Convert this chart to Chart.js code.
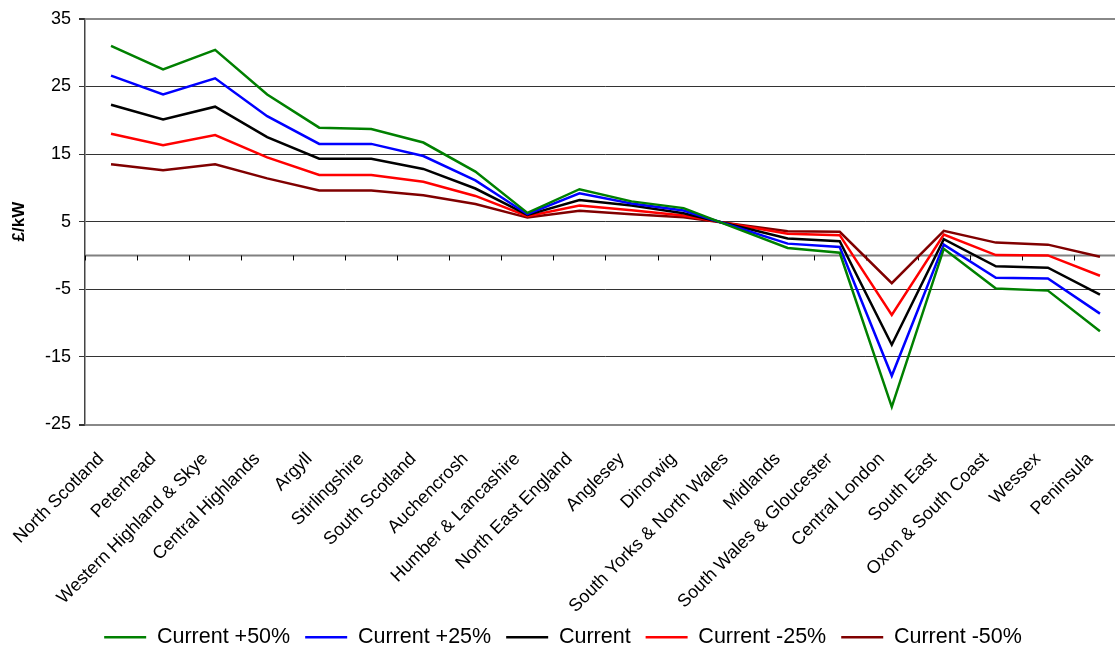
<!DOCTYPE html>
<html>
<head>
<meta charset="utf-8">
<script src="https://cdn.jsdelivr.net/npm/chart.js@4.4.1/dist/chart.umd.min.js"></script>
<style>
  html, body { margin: 0; padding: 0; background: #fff; overflow: hidden; }
  #wrap { width: 1126px; height: 658px; }
</style>
</head>
<body>
<div id="wrap"><canvas id="zoneChart" width="1126" height="658"></canvas></div>
<script>
const zones = ['North Scotland', 'Peterhead', 'Western Highland & Skye', 'Central Highlands', 'Argyll',
    'Stirlingshire', 'South Scotland', 'Auchencrosh', 'Humber & Lancashire', 'North East England',
    'Anglesey', 'Dinorwig', 'South Yorks & North Wales', 'Midlands', 'South Wales & Gloucester',
    'Central London', 'South East', 'Oxon & South Coast', 'Wessex', 'Peninsula'];

const plus50 = [31.0, 27.5, 30.4, 23.8, 18.9, 18.7, 16.7, 12.4, 6.3, 9.8, 8.0, 7.0, 4.05, 1.1, 0.4, -22.4, 1.0, -4.9, -5.2, -11.2];
const plus25 = [26.6, 23.8, 26.2, 20.6, 16.5, 16.5, 14.7, 11.1, 6.1, 9.2, 7.7, 6.65, 4.2, 1.75, 1.25, -17.8, 1.6, -3.3, -3.4, -8.6];
const current = [22.3, 20.1, 22.0, 17.5, 14.3, 14.3, 12.8, 9.9, 6.0, 8.2, 7.4, 6.25, 4.4, 2.5, 2.1, -13.2, 2.4, -1.6, -1.8, -5.8];
const minus25 = [18.0, 16.3, 17.8, 14.5, 11.9, 11.9, 10.9, 8.8, 5.8, 7.4, 6.7, 5.9, 4.55, 3.2, 3.0, -8.8, 3.1, 0.05, 0.0, -3.0];
const minus50 = [13.5, 12.6, 13.5, 11.4, 9.6, 9.6, 8.9, 7.6, 5.6, 6.6, 6.1, 5.65, 4.6, 3.57, 3.5, -4.1, 3.65, 1.9, 1.6, -0.2];

const yMin = -25;
const yMax = 35;
const yStep = 10;

// zero line with the category tick marks hanging off it
const zeroAxis = {
    id: 'zeroAxis',
    beforeDatasetsDraw(chart) {
        const {ctx, chartArea, scales} = chart;
        const x = scales.x;
        const y0 = scales.y.getPixelForValue(0);
        const step = x.getPixelForValue(1) - x.getPixelForValue(0);
        ctx.save();
        ctx.strokeStyle = '#808080';
        ctx.lineWidth = 2;
        ctx.beginPath();
        ctx.moveTo(chartArea.left, y0);
        ctx.lineTo(chartArea.right, y0);
        ctx.stroke();
        ctx.strokeStyle = '#000';
        ctx.lineWidth = 1;
        for (let i = 0; i <= zones.length; i++) {
            const bx = Math.round(x.getPixelForValue(0) - step / 2 + i * step) + 0.5;
            ctx.beginPath();
            ctx.moveTo(bx, y0);
            ctx.lineTo(bx, y0 + 5);
            ctx.stroke();
        }
        ctx.restore();
    }
};

function makeSet(label, data, color) {
    return {
        label: label,
        data: data,
        borderColor: color,
        backgroundColor: color,
        borderWidth: 2.5,
        pointRadius: 0,
        tension: 0,
        fill: false
    };
}

const ctx = document.getElementById('zoneChart').getContext('2d');
const zoneChart = new Chart(ctx, {
    type: 'line',
    data: {
        labels: zones,
        datasets: [
            makeSet('Current +50%', plus50, '#008000'),
            makeSet('Current +25%', plus25, '#0000ff'),
            makeSet('Current', current, '#000000'),
            makeSet('Current -25%', minus25, '#ff0000'),
            makeSet('Current -50%', minus50, '#800000')
        ]
    },
    options: {
        responsive: false,
        animation: false,
        layout: { padding: { top: 15, left: 0, right: 0, bottom: 0 } },
        plugins: {
            tooltip: { enabled: false },
            legend: {
                position: 'bottom',
                labels: {
                    usePointStyle: true,
                    pointStyle: 'line',
                    pointStyleWidth: 42,
                    padding: 15,
                    color: '#000',
                    font: { family: 'Liberation Sans, Arial, sans-serif', size: 21.5 }
                }
            }
        },
        scales: {
            x: {
                offset: true,
                grid: { display: false, drawTicks: false },
                border: { display: false },
                ticks: {
                    autoSkip: false,
                    minRotation: 45,
                    maxRotation: 45,
                    padding: 24,
                    labelOffset: -10,
                    color: '#000',
                    font: { family: 'Liberation Sans, Arial, sans-serif', size: 18 }
                },
                afterFit(scale) {
                    scale.height = 187;
                    scale.paddingLeft = 0;
                    scale.paddingRight = 0;
                }
            },
            y: {
                min: yMin,
                max: yMax,
                ticks: {
                    stepSize: yStep,
                    padding: 8,
                    color: '#000',
                    font: { family: 'Liberation Sans, Arial, sans-serif', size: 18 }
                },
                grid: {
                    color: c => (c.tick.value === yMin || c.tick.value === yMax) ? '#888888' : '#333333',
                    lineWidth: c => (c.tick.value === yMin || c.tick.value === yMax) ? 2 : 1,
                    tickColor: '#333333',
                    tickLength: 6
                },
                border: { display: true, color: '#444444', width: 1.5 },
                title: {
                    display: true,
                    text: '£/kW',
                    color: '#000',
                    padding: { top: 9, bottom: 0 },
                    font: { family: 'Liberation Sans, Arial, sans-serif', size: 17, weight: 'bold' }
                },
                afterFit(scale) { scale.width = 85; }
            }
        }
    },
    plugins: [zeroAxis]
});
</script>
</body>
</html>
